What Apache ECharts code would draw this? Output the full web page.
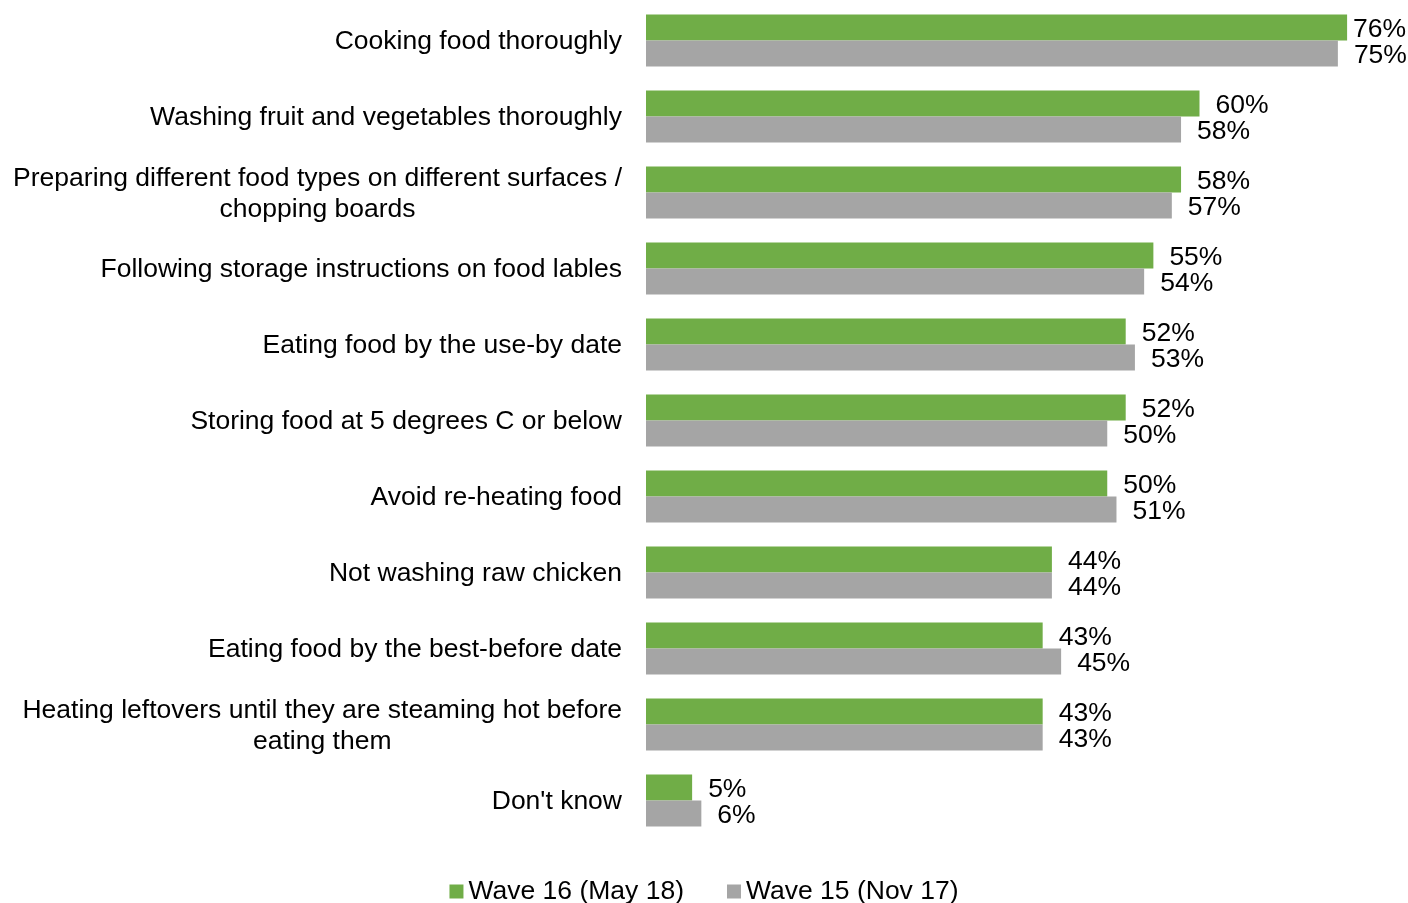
<!DOCTYPE html>
<html>
<head>
<meta charset="utf-8">
<script src="https://cdn.jsdelivr.net/npm/echarts@6/dist/echarts.min.js"></script>
<style>
  html, body { margin: 0; padding: 0; background: #fff; }
  #chart { width: 1408px; height: 903px; }
</style>
</head>
<body>
<div id="chart"></div>
<script>
var categories = [
  'Cooking food thoroughly',
  'Washing fruit and vegetables thoroughly',
  'Preparing different food types on different surfaces /\nchopping boards',
  'Following storage instructions on food lables',
  'Eating food by the use-by date',
  'Storing food at 5 degrees C or below',
  'Avoid re-heating food',
  'Not washing raw chicken',
  'Eating food by the best-before date',
  'Heating leftovers until they are steaming hot before\neating them',
  "Don't know"
];
var wave16 = [76, 60, 58, 55, 52, 52, 50, 44, 43, 43, 5];
var wave15 = [75, 58, 57, 54, 53, 50, 51, 44, 45, 43, 6];
var seriesNames = ['Wave 16 (May 18)', 'Wave 15 (Nov 17)'];

var FONT = 'Arial, "Liberation Sans", sans-serif';
var FS = 26.5;
var chart = echarts.init(document.getElementById('chart'));

function makeData (arr) {
  return arr.map(function (v) {
    // the longest bar gets its label pulled in so it stays on the page
    if (v >= 76) return { value: v, label: { distance: 6 } };
    return v;
  });
}

var labelStyle = {
  show: true,
  position: 'right',
  distance: 16,
  offset: [0, 2],
  color: '#000',
  fontFamily: FONT,
  fontSize: FS,
  formatter: '{c}%'
};

var option = {
  animation: false,
  color: ['#70AD47', '#A5A5A5'],
  grid: {
    left: 646,
    right: 24,
    top: 2.5,
    height: 836
  },
  legend: {
    bottom: -7,
    left: 'center',
    itemWidth: 14,
    itemHeight: 14,
    itemGap: 43,
    icon: 'rect',
    textStyle: { fontFamily: FONT, fontSize: FS, color: '#000' },
    data: seriesNames
  },
  xAxis: {
    type: 'value',
    min: 0,
    max: 80,
    show: false
  },
  yAxis: {
    type: 'category',
    inverse: true,
    data: categories,
    axisLine: { show: false },
    axisTick: { show: false },
    axisLabel: {
      margin: 24,
      padding: [3, 0, 0, 0],
      fontFamily: FONT,
      fontSize: FS,
      color: '#000',
      lineHeight: 31,
      formatter: function (v) {
        return v.split('\n').map(function (s) { return '{c|' + s + '}'; }).join('\n');
      },
      rich: {
        c: { align: 'center', fontFamily: FONT, fontSize: FS, color: '#000', lineHeight: 31 }
      }
    }
  },
  series: [
    {
      name: seriesNames[0],
      type: 'bar',
      barWidth: 26,
      barGap: '0%',
      data: makeData(wave16),
      label: labelStyle
    },
    {
      name: seriesNames[1],
      type: 'bar',
      barWidth: 26,
      barGap: '0%',
      data: makeData(wave15),
      label: labelStyle
    }
  ]
};

chart.setOption(option);
</script>
</body>
</html>
